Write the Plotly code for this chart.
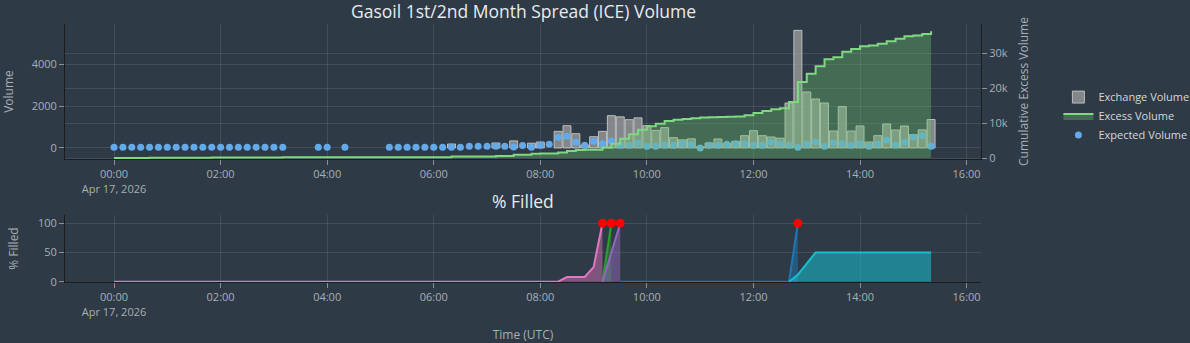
import pandas as pd
import plotly.graph_objects as go

# ---------------- data ----------------
# 10-minute slots, 00:00 .. 15:20 on 2026-04-17 (93 slots)
slot_times = pd.date_range("2026-04-17 00:00", periods=93, freq="10min")

exchange_volume = [
    None, None, None, None, None, None, None, None, None, None,
    None, None, None, None, None, None, None, None, None, None,
    None, None, None, None, None, None, None, None, None, None,
    None, None, None, None, None, None, None, None, 192, None,
    None, None, None, 240, None, 340, None, 230, 288, None,
    797, 1070, 686, 144, 542, 797, 1550, 1495, 1358, 1445,
    1070, 845, 975, 495, 390, 440, 60, 240, 432, 220,
    317, 590, 830, 590, 526, 470, 2160, 5645, 2688, 2352,
    2160, 816, 1982, 816, 1056, 288, 590, 1152, 864, 1056,
    638, 870, 1365,
]

expected_volume = [
    40, 30, 30, 30, 35, 35, 35, 35, 30, 40,
    35, 30, 35, 30, 30, 30, 30, 30, 30, 30,
    None, None, None, 40, 30, None, 30, None, None, None,
    None, 30, 30, 30, 30, 30, 30, 30, 30, 30,
    77, 77, 77, 77, 77, 47, 120, 30, 125, 173,
    509, 557, 269, 125, 317, 206, 336, 125, 125, 221,
    77, 77, 144, 125, 206, 163, 0, 125, 125, 173,
    206, 206, 125, 125, 269, 200, 125, 30, 192, 288,
    77, 240, 206, 125, 206, 77, 192, 365, 144, 269,
    509, 590, 77,
]

cumulative_excess = [
    0, 0, 20, 30, 40, 50, 60, 70, 80, 100,
    100, 110, 120, 130, 140, 150, 150, 160, 170, 180,
    180, 180, 180, 190, 200, 200, 210, 210, 210, 210,
    210, 220, 220, 230, 230, 240, 240, 250, 400, 400,
    400, 400, 400, 600, 600, 900, 900, 1200, 1300, 1300,
    1600, 2000, 2300, 2350, 2400, 3000, 4100, 5500, 6800, 8100,
    9100, 9800, 10600, 11000, 11200, 11400, 11600, 11700, 11800, 11850,
    11900, 12300, 12900, 13500, 14000, 14300, 16100, 21800, 24200, 26300,
    28300, 28900, 30500, 31300, 32100, 32300, 32800, 33500, 34200, 34950,
    35150, 35550, 36350,
]

# % filled per order
day = "2026-04-17 "
pink_times = ["00:00", "08:20", "08:30", "08:50", "09:00", "09:10"]
pink_pct = [0, 0, 8, 8, 25, 100]
green_times = ["09:10", "09:20"]
green_pct = [0, 100]
purple_times = ["09:10", "09:30"]
purple_pct = [0, 100]
blue_times = ["09:30", "12:40", "12:50"]
blue_pct = [0, 0, 100]
cyan_times = ["12:40", "12:50", "13:10", "15:20"]
cyan_pct = [0, 12, 50, 50]
complete_times = ["09:10", "09:20", "09:30", "12:50"]
complete_pct = [100, 100, 100, 100]

x_range = ["2026-04-16 23:04:48", "2026-04-17 16:16:12"]

# ---------------- style ----------------
BG = "#2e3a46"
GRID = "rgba(255,255,255,0.10)"
TICK = "#a9afb5"
FONT = '"Open Sans", verdana, arial, sans-serif'

fig = go.Figure()

fig.add_trace(go.Bar(
    x=slot_times, y=exchange_volume, name="Exchange Volume",
    marker=dict(color="rgba(165,165,165,0.72)",
                line=dict(color="rgba(205,205,205,0.85)", width=1)),
    width=9 * 60 * 1000, xaxis="x", yaxis="y", legendrank=1,
))
fig.add_trace(go.Scatter(
    x=slot_times, y=expected_volume, name="Expected Volume", mode="markers",
    marker=dict(color="#62aaea", size=7),
    xaxis="x", yaxis="y", legendrank=3,
))
fig.add_trace(go.Scatter(
    x=slot_times, y=cumulative_excess, name="Excess Volume", mode="lines",
    line=dict(color="#80d880", width=2, shape="hv"),
    fill="tozeroy", fillcolor="rgba(110,200,110,0.35)",
    xaxis="x", yaxis="y2", legendrank=2,
))

def tt(lst):
    return [day + t for t in lst]

orders = [
    (pink_times, pink_pct, "#e377c2", "rgba(227,119,194,0.45)"),
    (green_times, green_pct, "#2ca02c", "rgba(44,160,44,0.45)"),
    (purple_times, purple_pct, "#9467bd", "rgba(148,103,189,0.5)"),
    (blue_times, blue_pct, "#1f77b4", "rgba(31,119,180,0.5)"),
    (cyan_times, cyan_pct, "#17becf", "rgba(23,190,207,0.55)"),
]
for t, v, c, fc in orders:
    fig.add_trace(go.Scatter(
        x=tt(t), y=v, mode="lines", line=dict(color=c, width=2),
        fill="tozeroy", fillcolor=fc, showlegend=False,
        xaxis="x2", yaxis="y3",
    ))
fig.add_trace(go.Scatter(
    x=tt(complete_times), y=complete_pct, mode="markers",
    marker=dict(color="#ff0000", size=9), showlegend=False,
    xaxis="x2", yaxis="y3",
))

axis_common = dict(
    showgrid=True, gridcolor=GRID, gridwidth=1,
    showline=True, linecolor="#1c1c1c", linewidth=1,
    ticks="outside", ticklen=5, tickcolor="#8a9096",
    tickfont=dict(size=11, color=TICK, family=FONT),
    zeroline=False, automargin=False,
)

xcommon = dict(axis_common, type="date", range=x_range,
               tick0="2026-04-17 00:00", dtick=2 * 3600 * 1000)

fig.update_layout(
    template="none",
    width=1190, height=343,
    margin=dict(l=65, r=209, t=24, b=61, autoexpand=False),
    paper_bgcolor=BG, plot_bgcolor=BG,
    font=dict(family=FONT, color=TICK, size=12),
    showlegend=True,
    legend=dict(x=1.0845, y=0.643, xanchor="left", yanchor="middle",
                bgcolor="rgba(0,0,0,0)", font=dict(size=11, color="#d4d8dc"),
                traceorder="normal"),
    bargap=0.1,
    xaxis=dict(xcommon, domain=[0, 1], anchor="y"),
    yaxis=dict(axis_common, domain=[0.4767, 1], range=[-530, 5950],
               title=dict(text="Volume", standoff=16,
                          font=dict(size=12, color=TICK))),
    yaxis2=dict(axis_common, overlaying="y", side="right", anchor="x",
                range=[-290, 38450],
                title=dict(text="Cumulative Excess Volume", standoff=12,
                           font=dict(size=12, color=TICK))),
    xaxis2=dict(xcommon, domain=[0, 1], anchor="y3",
                title=dict(text="Time (UTC)", standoff=20,
                           font=dict(size=12, color=TICK))),
    yaxis3=dict(axis_common, domain=[0, 0.2597], range=[-0.5, 114],
                tickvals=[0, 50, 100],
                title=dict(text="% Filled", standoff=16,
                           font=dict(size=12, color=TICK))),
    annotations=[
        dict(text="Gasoil 1st/2nd Month Spread (ICE) Volume", x=0.5, y=1.0,
             xref="paper", yref="paper", xanchor="center", yanchor="bottom",
             yshift=-1, showarrow=False,
             font=dict(size=17.5, color="#e8eaec")),
        dict(text="% Filled", x=0.5, y=0.2597,
             xref="paper", yref="paper", xanchor="center", yanchor="bottom",
             yshift=0, showarrow=False,
             font=dict(size=17.5, color="#e8eaec")),
    ],
)

fig.write_html("out.html")
